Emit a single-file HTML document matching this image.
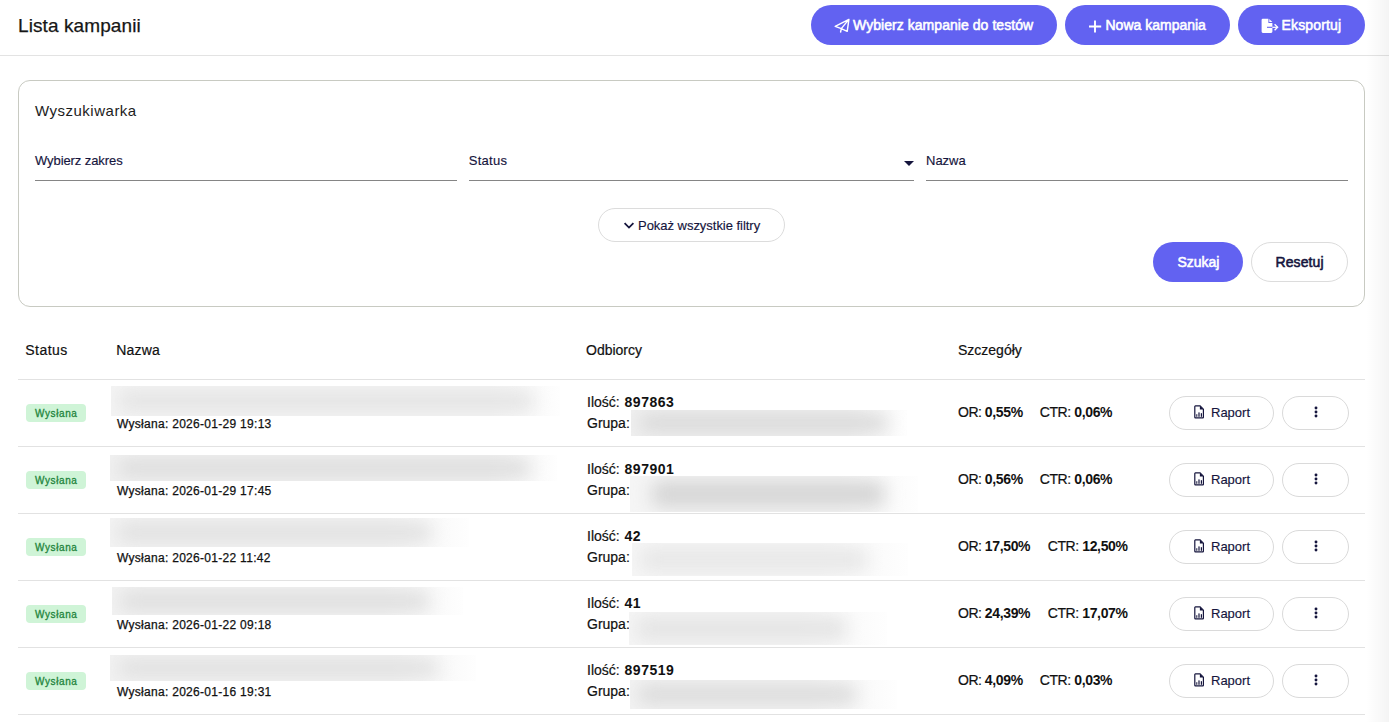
<!DOCTYPE html>
<html><head><meta charset="utf-8">
<style>
*{box-sizing:border-box;margin:0;padding:0}
html,body{width:1389px;height:722px;overflow:hidden;background:#fff}
body{position:relative;font-family:"Liberation Sans",sans-serif;color:#111}
.t{position:absolute;white-space:nowrap;line-height:1}
.hdr-line{position:absolute;left:0;top:55px;width:1389px;height:1px;background:#e3e3e3}
.btn{position:absolute;top:5px;height:40px;border-radius:20px;background:#6262f1}
.btxt{color:#fff;font-size:14px;-webkit-text-stroke:0.55px currentColor}
.panel{position:absolute;left:18px;top:80px;width:1347px;height:227px;border:1px solid #c8cac2;border-radius:12px}
.fl{position:absolute;top:180px;height:1px;background:#858585}
.flab{color:#15153d;font-size:13px;-webkit-text-stroke:0.15px #15153d}
.obtn{position:absolute;border:1px solid #dcdcdc;background:#fff}
.rowline{position:absolute;left:18px;width:1347px;height:1px;background:#e2e2e2}
.th{font-size:14px;color:#111;-webkit-text-stroke:0.2px #111}
.badge{position:absolute;left:26px;width:60px;height:18px;border-radius:4px;background:#cff4d7}
.btx{font-size:10px;color:#23853c;-webkit-text-stroke:0.3px #23853c;letter-spacing:0.6px}
.blur{position:absolute;overflow:hidden;background:linear-gradient(to right,#f5f5f5 0,#f5f5f5 85%,#fafafa 100%)}
.blur i{position:absolute;display:block;background:#e3e3e3;border-radius:6px;filter:blur(9px)}
.cell{font-size:14px;color:#111;-webkit-text-stroke:0.2px #111}
.cell b{-webkit-text-stroke:0}
.date{font-size:12px;color:#111;letter-spacing:0.29px;-webkit-text-stroke:0.25px #111}
.rap{position:absolute;left:1169px;width:105px;height:34px;border-radius:17px;border:1px solid #dadada}
.dots{position:absolute;left:1282px;width:67px;height:34px;border-radius:17px;border:1px solid #dadada}
.shade{position:absolute;left:1366px;top:0;width:23px;height:722px;background:linear-gradient(to right,rgba(0,0,0,0),rgba(0,0,0,0.045))}
</style></head><body>

<div class="t" style="left:18px;top:15.6px;font-size:19px;color:#161616;-webkit-text-stroke:0.25px #161616;letter-spacing:0.1px">Lista kampanii</div>
<div class="hdr-line"></div>

<!-- top buttons -->
<div class="btn" style="left:811px;width:246px"></div>
<svg style="position:absolute;left:834px;top:18px" width="16" height="16" viewBox="0 0 16 16">
  <path d="M1.2 8.4 L14.9 1.4 L13.2 13.3 L7.3 10.6 Z M14.9 1.4 L7.3 10.6 L6.6 14" fill="none" stroke="#fff" stroke-width="1.45" stroke-linejoin="round" stroke-linecap="round"/>
</svg>
<div class="t btxt" style="left:853px;top:18px;letter-spacing:0.05px">Wybierz kampanie do testów</div>

<div class="btn" style="left:1065px;width:165px"></div>
<svg style="position:absolute;left:1088px;top:19.5px" width="14" height="13" viewBox="0 0 14 13">
  <path d="M7 0.5 V12.5 M1 6.5 H13.2" stroke="#fff" stroke-width="1.9" fill="none"/>
</svg>
<div class="t btxt" style="left:1105.5px;top:18px;letter-spacing:0px">Nowa kampania</div>

<div class="btn" style="left:1238px;width:127px"></div>
<svg style="position:absolute;left:1261px;top:18px" width="18" height="16" viewBox="0 0 18 16">
  <path d="M1.8 0.7 H7.4 V4.9 H11.4 V13.6 Q11.4 14.9 10.1 14.9 H1.9 Q0.6 14.9 0.6 13.6 V2 Q0.6 0.7 1.8 0.7 Z" fill="#fff"/>
  <path d="M8.3 0.9 L11.3 4 H8.3 Z" fill="#fff"/>
  <path d="M6 9.3 H11.6" stroke="#6262f1" stroke-width="1.1"/>
  <path d="M11.4 9.3 H16.4" stroke="#fff" stroke-width="1.2"/>
  <path d="M13.6 6.3 L16.6 9.3 L13.6 12.3" stroke="#fff" stroke-width="1.4" fill="none"/>
</svg>
<div class="t btxt" style="left:1281.5px;top:18px;letter-spacing:0.15px">Eksportuj</div>

<!-- search panel -->
<div class="panel"></div>
<div class="t" style="left:35px;top:103px;font-size:15px;color:#1c1c1c;letter-spacing:0.5px">Wyszukiwarka</div>

<div class="t flab" style="left:35px;top:154px;letter-spacing:-0.08px">Wybierz zakres</div>
<div class="fl" style="left:35px;width:422px"></div>
<div class="t flab" style="left:468.7px;top:154px;letter-spacing:0.3px">Status</div>
<svg style="position:absolute;left:903px;top:160px" width="12" height="7" viewBox="0 0 12 7"><path d="M1 1 H11 L6 6 Z" fill="#15153d"/></svg>
<div class="fl" style="left:469px;width:445px"></div>
<div class="t flab" style="left:926px;top:154px;letter-spacing:0px">Nazwa</div>
<div class="fl" style="left:926px;width:422px"></div>

<div class="obtn" style="left:598px;top:208px;width:187px;height:34px;border-radius:17px"></div>
<svg style="position:absolute;left:623px;top:221px" width="12" height="9" viewBox="0 0 12 9"><path d="M1.6 2.2 L6 6.6 L10.4 2.2" stroke="#15153d" stroke-width="1.8" fill="none"/></svg>
<div class="t" style="left:638px;top:219px;font-size:13px;color:#15153d;letter-spacing:-0.03px;-webkit-text-stroke:0.15px #15153d">Pokaż wszystkie filtry</div>

<div class="btn" style="left:1153px;top:242px;width:90px"></div>
<div class="t btxt" style="left:1177.5px;top:255px;letter-spacing:-0.05px">Szukaj</div>
<div class="obtn" style="left:1251px;top:242px;width:97px;height:40px;border-radius:20px"></div>
<div class="t btxt" style="left:1275.5px;top:255px;color:#15153d;letter-spacing:0.1px">Resetuj</div>

<!-- table header -->
<div class="t th" style="left:25.3px;top:343px;letter-spacing:0.45px">Status</div>
<div class="t th" style="left:116.2px;top:343px;letter-spacing:0.2px">Nazwa</div>
<div class="t th" style="left:586px;top:343px">Odbiorcy</div>
<div class="t th" style="left:958px;top:343px">Szczegóły</div>
<div class="rowline" style="top:379px"></div>

<!-- ROWS -->
<!-- row 1 -->
<div class="badge" style="top:404px"></div>
<div class="t btx" style="left:35px;top:409px">Wysłana</div>
<div class="blur" style="left:111px;top:386px;width:449px;height:30px;background:linear-gradient(to right,#f4f4f4 0,#f4f4f4 379px,#fefefe 449px)"><i style="left:8px;width:414px;top:5px;bottom:5px;background:#e4e4e4"></i></div>
<div class="t date" style="left:117px;top:417.6px">Wysłana: 2026-01-29 19:13</div>
<div class="t cell" style="left:587px;top:395px">Ilość: <b style="letter-spacing:0.5px;margin-left:1px">897863</b></div>
<div class="t cell" style="left:587px;top:416px">Grupa:</div>
<div class="blur" style="left:631px;top:410px;width:276px;height:26px;background:linear-gradient(to right,#f0f0f0 0,#f0f0f0 216px,#fefefe 276px)"><i style="left:8px;width:248px;top:5px;bottom:5px;background:#d6d6d6"></i></div>
<div class="t cell" style="left:958px;top:405px;letter-spacing:-0.5px">OR: <b style="letter-spacing:-0.35px">0,55%</b></div>
<div class="t cell" style="left:1039.7px;top:405px;letter-spacing:-0.4px">CTR: <b style="letter-spacing:-0.35px">0,06%</b></div>
<div class="rap" style="top:396px"></div>
<svg style="position:absolute;left:1193px;top:405px" width="12" height="14" viewBox="0 0 12 14"><path d="M2.4 0.9 H7.1 L10.4 4.2 V12.3 Q10.4 12.9 9.8 12.9 H2.4 Q1.8 12.9 1.8 12.3 V1.5 Q1.8 0.9 2.4 0.9 Z" fill="none" stroke="#15153d" stroke-width="1.2"/><path d="M6.9 0.9 V4.4 H10.4 Z" fill="#15153d"/><rect x="3.3" y="9.2" width="1" height="2.6" fill="#15153d"/><rect x="5.4" y="7.4" width="1.2" height="4.4" fill="#15153d"/><rect x="7.8" y="8.2" width="1.2" height="3.6" fill="#15153d"/></svg>
<div class="t" style="left:1211px;top:406px;font-size:13px;color:#15153d;-webkit-text-stroke:0.15px #15153d">Raport</div>
<div class="dots" style="top:396px"></div>
<svg style="position:absolute;left:1314px;top:406px" width="4" height="13" viewBox="0 0 4 13"><circle cx="2" cy="2" r="1.45" fill="#15153d"/><circle cx="2" cy="6" r="1.45" fill="#15153d"/><circle cx="2" cy="10" r="1.45" fill="#15153d"/></svg>
<div class="rowline" style="top:446px"></div>
<!-- row 2 -->
<div class="badge" style="top:471px"></div>
<div class="t btx" style="left:35px;top:476px">Wysłana</div>
<div class="blur" style="left:110px;top:455px;width:447px;height:26px;background:linear-gradient(to right,#f1f1f1 0,#f1f1f1 377px,#fefefe 447px)"><i style="left:8px;width:412px;top:5px;bottom:5px;background:#dadada"></i></div>
<div class="t date" style="left:117px;top:484.6px">Wysłana: 2026-01-29 17:45</div>
<div class="t cell" style="left:587px;top:462px">Ilość: <b style="letter-spacing:0.5px;margin-left:1px">897901</b></div>
<div class="t cell" style="left:587px;top:483px">Grupa:</div>
<div class="blur" style="left:630px;top:476px;width:288px;height:36px;background:linear-gradient(to right,#f5f5f5 0,#f5f5f5 208px,#fefefe 288px)"><i style="left:22px;width:232px;top:5px;bottom:5px;background:#d5d5d5"></i></div>
<div class="t cell" style="left:958px;top:472px;letter-spacing:-0.5px">OR: <b style="letter-spacing:-0.35px">0,56%</b></div>
<div class="t cell" style="left:1039.7px;top:472px;letter-spacing:-0.4px">CTR: <b style="letter-spacing:-0.35px">0,06%</b></div>
<div class="rap" style="top:463px"></div>
<svg style="position:absolute;left:1193px;top:472px" width="12" height="14" viewBox="0 0 12 14"><path d="M2.4 0.9 H7.1 L10.4 4.2 V12.3 Q10.4 12.9 9.8 12.9 H2.4 Q1.8 12.9 1.8 12.3 V1.5 Q1.8 0.9 2.4 0.9 Z" fill="none" stroke="#15153d" stroke-width="1.2"/><path d="M6.9 0.9 V4.4 H10.4 Z" fill="#15153d"/><rect x="3.3" y="9.2" width="1" height="2.6" fill="#15153d"/><rect x="5.4" y="7.4" width="1.2" height="4.4" fill="#15153d"/><rect x="7.8" y="8.2" width="1.2" height="3.6" fill="#15153d"/></svg>
<div class="t" style="left:1211px;top:473px;font-size:13px;color:#15153d;-webkit-text-stroke:0.15px #15153d">Raport</div>
<div class="dots" style="top:463px"></div>
<svg style="position:absolute;left:1314px;top:473px" width="4" height="13" viewBox="0 0 4 13"><circle cx="2" cy="2" r="1.45" fill="#15153d"/><circle cx="2" cy="6" r="1.45" fill="#15153d"/><circle cx="2" cy="10" r="1.45" fill="#15153d"/></svg>
<div class="rowline" style="top:513px"></div>
<!-- row 3 -->
<div class="badge" style="top:538px"></div>
<div class="t btx" style="left:35px;top:543px">Wysłana</div>
<div class="blur" style="left:110px;top:518px;width:359px;height:29px;background:linear-gradient(to right,#f3f3f3 0,#f3f3f3 274px,#fefefe 359px)"><i style="left:8px;width:313px;top:5px;bottom:5px;background:#e0e0e0"></i></div>
<div class="t date" style="left:117px;top:551.6px">Wysłana: 2026-01-22 11:42</div>
<div class="t cell" style="left:587px;top:529px">Ilość: <b style="letter-spacing:0.5px;margin-left:1px">42</b></div>
<div class="t cell" style="left:587px;top:550px">Grupa:</div>
<div class="blur" style="left:632px;top:543px;width:276px;height:33px;background:linear-gradient(to right,#f6f6f6 0,#f6f6f6 186px,#fefefe 276px)"><i style="left:8px;width:227px;top:5px;bottom:5px;background:#e7e7e7"></i></div>
<div class="t cell" style="left:958px;top:539px;letter-spacing:-0.5px">OR: <b style="letter-spacing:-0.35px">17,50%</b></div>
<div class="t cell" style="left:1047.7px;top:539px;letter-spacing:-0.4px">CTR: <b style="letter-spacing:-0.35px">12,50%</b></div>
<div class="rap" style="top:530px"></div>
<svg style="position:absolute;left:1193px;top:539px" width="12" height="14" viewBox="0 0 12 14"><path d="M2.4 0.9 H7.1 L10.4 4.2 V12.3 Q10.4 12.9 9.8 12.9 H2.4 Q1.8 12.9 1.8 12.3 V1.5 Q1.8 0.9 2.4 0.9 Z" fill="none" stroke="#15153d" stroke-width="1.2"/><path d="M6.9 0.9 V4.4 H10.4 Z" fill="#15153d"/><rect x="3.3" y="9.2" width="1" height="2.6" fill="#15153d"/><rect x="5.4" y="7.4" width="1.2" height="4.4" fill="#15153d"/><rect x="7.8" y="8.2" width="1.2" height="3.6" fill="#15153d"/></svg>
<div class="t" style="left:1211px;top:540px;font-size:13px;color:#15153d;-webkit-text-stroke:0.15px #15153d">Raport</div>
<div class="dots" style="top:530px"></div>
<svg style="position:absolute;left:1314px;top:540px" width="4" height="13" viewBox="0 0 4 13"><circle cx="2" cy="2" r="1.45" fill="#15153d"/><circle cx="2" cy="6" r="1.45" fill="#15153d"/><circle cx="2" cy="10" r="1.45" fill="#15153d"/></svg>
<div class="rowline" style="top:580px"></div>
<!-- row 4 -->
<div class="badge" style="top:605px"></div>
<div class="t btx" style="left:35px;top:610px">Wysłana</div>
<div class="blur" style="left:112px;top:587px;width:351px;height:28px;background:linear-gradient(to right,#f2f2f2 0,#f2f2f2 271px,#fefefe 351px)"><i style="left:8px;width:309px;top:5px;bottom:5px;background:#dddddd"></i></div>
<div class="t date" style="left:117px;top:618.6px">Wysłana: 2026-01-22 09:18</div>
<div class="t cell" style="left:587px;top:596px">Ilość: <b style="letter-spacing:0.5px;margin-left:1px">41</b></div>
<div class="t cell" style="left:587px;top:617px">Grupa:</div>
<div class="blur" style="left:629px;top:612px;width:258px;height:33px;background:linear-gradient(to right,#f5f5f5 0,#f5f5f5 168px,#fefefe 258px)"><i style="left:8px;width:209px;top:5px;bottom:5px;background:#e4e4e4"></i></div>
<div class="t cell" style="left:958px;top:606px;letter-spacing:-0.5px">OR: <b style="letter-spacing:-0.35px">24,39%</b></div>
<div class="t cell" style="left:1047.7px;top:606px;letter-spacing:-0.4px">CTR: <b style="letter-spacing:-0.35px">17,07%</b></div>
<div class="rap" style="top:597px"></div>
<svg style="position:absolute;left:1193px;top:606px" width="12" height="14" viewBox="0 0 12 14"><path d="M2.4 0.9 H7.1 L10.4 4.2 V12.3 Q10.4 12.9 9.8 12.9 H2.4 Q1.8 12.9 1.8 12.3 V1.5 Q1.8 0.9 2.4 0.9 Z" fill="none" stroke="#15153d" stroke-width="1.2"/><path d="M6.9 0.9 V4.4 H10.4 Z" fill="#15153d"/><rect x="3.3" y="9.2" width="1" height="2.6" fill="#15153d"/><rect x="5.4" y="7.4" width="1.2" height="4.4" fill="#15153d"/><rect x="7.8" y="8.2" width="1.2" height="3.6" fill="#15153d"/></svg>
<div class="t" style="left:1211px;top:607px;font-size:13px;color:#15153d;-webkit-text-stroke:0.15px #15153d">Raport</div>
<div class="dots" style="top:597px"></div>
<svg style="position:absolute;left:1314px;top:607px" width="4" height="13" viewBox="0 0 4 13"><circle cx="2" cy="2" r="1.45" fill="#15153d"/><circle cx="2" cy="6" r="1.45" fill="#15153d"/><circle cx="2" cy="10" r="1.45" fill="#15153d"/></svg>
<div class="rowline" style="top:647px"></div>
<!-- row 5 -->
<div class="badge" style="top:672px"></div>
<div class="t btx" style="left:35px;top:677px">Wysłana</div>
<div class="blur" style="left:110px;top:655px;width:366px;height:26px;background:linear-gradient(to right,#f2f2f2 0,#f2f2f2 281px,#fefefe 366px)"><i style="left:8px;width:320px;top:5px;bottom:5px;background:#dedede"></i></div>
<div class="t date" style="left:117px;top:685.6px">Wysłana: 2026-01-16 19:31</div>
<div class="t cell" style="left:587px;top:663px">Ilość: <b style="letter-spacing:0.5px;margin-left:1px">897519</b></div>
<div class="t cell" style="left:587px;top:684px">Grupa:</div>
<div class="blur" style="left:630px;top:680px;width:267px;height:29px;background:linear-gradient(to right,#f3f3f3 0,#f3f3f3 177px,#fefefe 267px)"><i style="left:8px;width:218px;top:5px;bottom:5px;background:#dadada"></i></div>
<div class="t cell" style="left:958px;top:673px;letter-spacing:-0.5px">OR: <b style="letter-spacing:-0.35px">4,09%</b></div>
<div class="t cell" style="left:1039.7px;top:673px;letter-spacing:-0.4px">CTR: <b style="letter-spacing:-0.35px">0,03%</b></div>
<div class="rap" style="top:664px"></div>
<svg style="position:absolute;left:1193px;top:673px" width="12" height="14" viewBox="0 0 12 14"><path d="M2.4 0.9 H7.1 L10.4 4.2 V12.3 Q10.4 12.9 9.8 12.9 H2.4 Q1.8 12.9 1.8 12.3 V1.5 Q1.8 0.9 2.4 0.9 Z" fill="none" stroke="#15153d" stroke-width="1.2"/><path d="M6.9 0.9 V4.4 H10.4 Z" fill="#15153d"/><rect x="3.3" y="9.2" width="1" height="2.6" fill="#15153d"/><rect x="5.4" y="7.4" width="1.2" height="4.4" fill="#15153d"/><rect x="7.8" y="8.2" width="1.2" height="3.6" fill="#15153d"/></svg>
<div class="t" style="left:1211px;top:674px;font-size:13px;color:#15153d;-webkit-text-stroke:0.15px #15153d">Raport</div>
<div class="dots" style="top:664px"></div>
<svg style="position:absolute;left:1314px;top:674px" width="4" height="13" viewBox="0 0 4 13"><circle cx="2" cy="2" r="1.45" fill="#15153d"/><circle cx="2" cy="6" r="1.45" fill="#15153d"/><circle cx="2" cy="10" r="1.45" fill="#15153d"/></svg>
<div class="rowline" style="top:714px"></div>
<!-- /ROWS -->
<div class="shade"></div>
</body></html>
